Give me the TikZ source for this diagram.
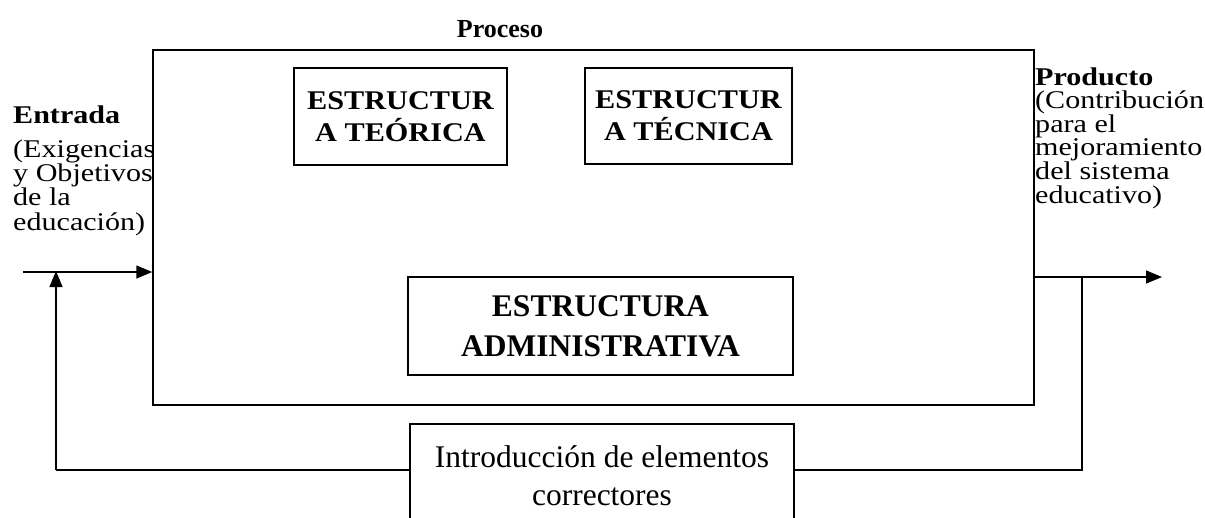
\documentclass[tikz,border=0pt]{standalone}
\usepackage{fontspec}
\setmainfont{Liberation Serif}
\newfontfamily\sidefont[FakeStretch=1.18]{Liberation Serif}
\newfontfamily\topboxfont[FakeStretch=1.12]{Liberation Serif}
\usetikzlibrary{arrows.meta}
\tikzset{
  ln/.style={line width=1.5pt},
  arr/.style={ln, -{Triangle[length=16pt,width=13pt]}},
  boxnode/.style={draw, ln, align=center, inner sep=0pt},
  sidetext/.style={align=left, inner sep=0pt, font=\sidefont\fontsize{25.5}{24.3}\selectfont},
}
\begin{document}
\begin{tikzpicture}[x=1pt,y=-1pt]
\useasboundingbox (0,0) rectangle (1205,517);
% process box
\node[draw, ln, minimum width=881pt, minimum height=355pt, inner sep=0pt] (proc) at (593.5,227.5) {};
\node[anchor=base, inner sep=0pt, font=\bfseries\fontsize{26}{30}\selectfont] (proclbl) at (500,37) {Proceso};
% inner boxes
\node[boxnode, minimum width=213pt, minimum height=97pt, font=\topboxfont\bfseries\fontsize{27}{32}\selectfont] (teo) at (400.5,116.5) {ESTRUCTUR\\A TEÓRICA};
\node[boxnode, minimum width=207pt, minimum height=96pt, font=\topboxfont\bfseries\fontsize{27}{32}\selectfont] (tec) at (688.5,116) {ESTRUCTUR\\A TÉCNICA};
\node[boxnode, minimum width=385pt, minimum height=98pt, font=\bfseries\fontsize{31.5}{40}\selectfont] (adm) at (600.5,326) {ESTRUCTURA\\ADMINISTRATIVA};
\node[boxnode, minimum width=384pt, minimum height=104pt, font=\fontsize{31.5}{38}\selectfont] (corr) at (602,476) {Introducción de elementos\\correctores};
% side texts (base anchor = baseline of last line)
\node[sidetext, anchor=base west] (entr) at (13,123) {\bfseries Entrada};
\node[sidetext, anchor=base west] (entrtxt) at (13,230) {(Exigencias\\y Objetivos\\de la\\educación)};
\node[sidetext, anchor=base west, font=\sidefont\fontsize{25.5}{23.6}\selectfont] (prodtxt) at (1035,203) {\bfseries Producto\\(Contribución\\para el\\mejoramiento\\del sistema\\educativo)};
% connectors
\coordinate (inStart) at (23,272);
\coordinate (outEnd) at (1162,277);
\coordinate (fbR) at (1082,277);
\coordinate (fbL) at (56,470);
\draw[arr] (inStart) -- (inStart -| proc.west);
\draw[arr] (proc.east |- outEnd) -- (outEnd);
\draw[ln] (fbR) |- (corr.east |- fbL);
\draw[ln] (corr.west |- fbL) -- (fbL);
\draw[arr] (fbL) -- ([yshift=1pt]fbL |- inStart);
\end{tikzpicture}
\end{document}
